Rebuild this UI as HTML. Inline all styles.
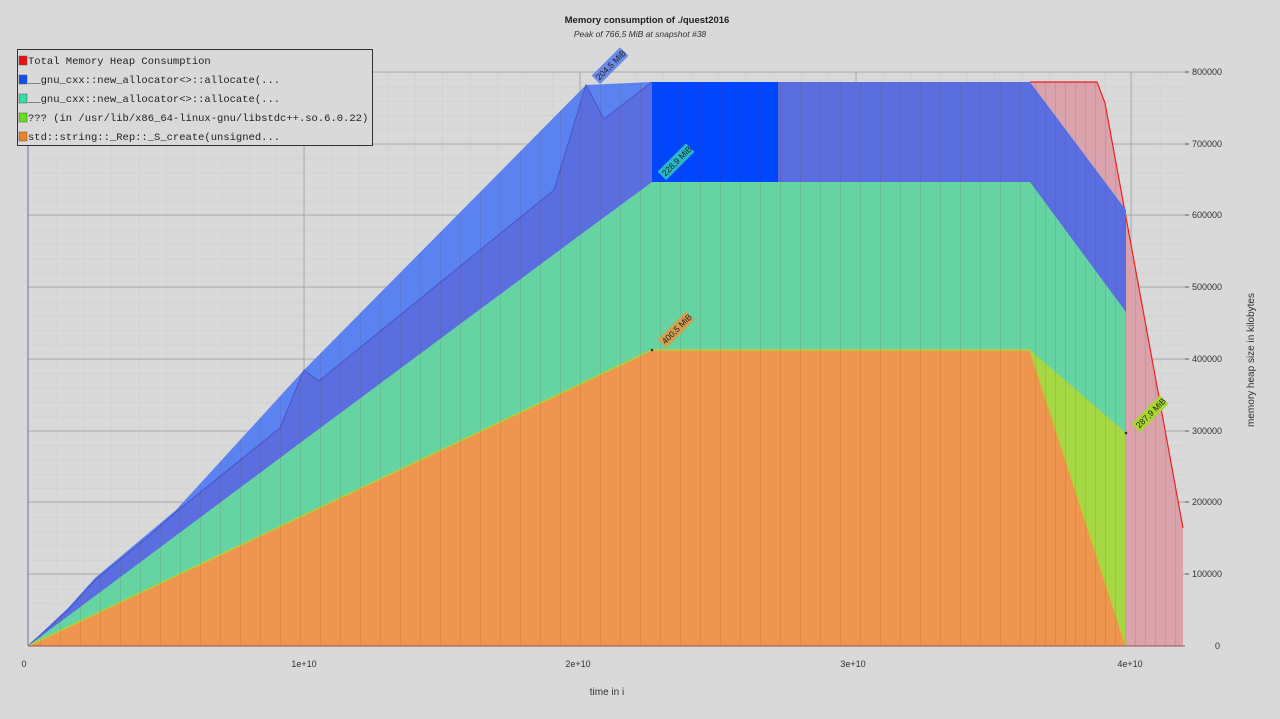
<!DOCTYPE html>
<html><head><meta charset="utf-8"><style>
body{margin:0;background:#d9d9d9;width:1280px;height:714px;overflow:hidden;font-family:"Liberation Sans","DejaVu Sans",sans-serif}
</style></head><body>
<svg width="1280" height="714" viewBox="0 0 1280 714" xmlns="http://www.w3.org/2000/svg">
<defs>
<pattern id="mg" x="28" y="72" width="27.6" height="14.35" patternUnits="userSpaceOnUse">
<line x1="0.5" y1="0" x2="0.5" y2="14.35" stroke="#d2d2d2"/><line x1="0" y1="0.5" x2="27.6" y2="0.5" stroke="#d2d2d2"/>
</pattern>
<pattern id="st1" x="40" y="0" width="20" height="714" patternUnits="userSpaceOnUse">
<line x1="0.5" y1="0" x2="0.5" y2="714" stroke="rgba(110,50,40,0.12)"/>
</pattern>
<pattern id="st2" x="1035" y="0" width="10" height="714" patternUnits="userSpaceOnUse">
<line x1="0.5" y1="0" x2="0.5" y2="714" stroke="rgba(110,50,40,0.14)"/>
</pattern>
</defs>
<rect width="1280" height="714" fill="#d9d9d9"/>
<rect x="28" y="72" width="1157" height="574" fill="url(#mg)"/>
<g stroke="#aaaaaa" stroke-width="1">
<line x1="28" y1="72" x2="1185" y2="72"/><line x1="28" y1="144" x2="1185" y2="144"/><line x1="28" y1="215" x2="1185" y2="215"/><line x1="28" y1="287" x2="1185" y2="287"/><line x1="28" y1="359" x2="1185" y2="359"/><line x1="28" y1="431" x2="1185" y2="431"/><line x1="28" y1="502" x2="1185" y2="502"/><line x1="28" y1="574" x2="1185" y2="574"/>
<line x1="304" y1="72" x2="304" y2="646"/><line x1="580" y1="72" x2="580" y2="646"/><line x1="856" y1="72" x2="856" y2="646"/><line x1="1131" y1="72" x2="1131" y2="646"/>
</g>
<polygon points="1030,82 1097,82 1105,103 1183,528 1183,646 1126,646 1126,210" fill="#daa3ab"/>
<polyline points="1030,82 1097,82 1105,103 1183,528" fill="none" stroke="#ee2020" stroke-width="1.2"/>
<polygon points="28,646 68,608 95,578 176,510 304,370 586,85 652,82 652,646" fill="#5a82f0"/>
<polygon points="28,646 68,610 95,580 150,535 176,512 280,428 304,370 319,381 554,190 586,85 604,119 652,82 1030,82 1126,210 1126,646 28,646" fill="#5b6ee0"/>
<polyline points="28,646 68,610 95,580 150,535 176,512 280,428 304,370 319,381 554,190 586,85 604,119 652,82" fill="none" stroke="#4656c8" stroke-width="1"/>
<rect x="652" y="82" width="126" height="100" fill="#0046ff"/>
<polygon points="28,646 304,440 580,235 652,182 1030,182 1126,312 1126,646" fill="#66d4a2"/>
<polygon points="1030,350 1126,433 1126,646" fill="#a6d846"/>
<polygon points="28,646 652,350 1030,350 1126,646" fill="#ee9650"/>
<polyline points="28,646 652,350 1030,350 1126,646" fill="none" stroke="#b8d030" stroke-width="1.5"/>
<polygon points="28,646 95,580 176,510 304,370 586,85 652,82 778,82 778,182 652,182 652,646" fill="url(#st1)"/>
<polygon points="778,82 1030,82 1030,646 652,646 652,182 778,182" fill="url(#st1)"/>
<polygon points="1030,82 1097,82 1105,103 1183,528 1183,646 1030,646" fill="url(#st2)"/>
<line x1="28" y1="72" x2="28" y2="646" stroke="#7070b8"/>
<line x1="28" y1="646" x2="1185" y2="646" stroke="#a05050"/>
<g font-size="9" fill="#333">
<text x="24" y="667" text-anchor="middle">0</text>
<text x="304" y="667" text-anchor="middle">1e+10</text>
<text x="578" y="667" text-anchor="middle">2e+10</text>
<text x="853" y="667" text-anchor="middle">3e+10</text>
<text x="1130" y="667" text-anchor="middle">4e+10</text>
<text x="1192" y="75">800000</text><text x="1192" y="147">700000</text><text x="1192" y="218">600000</text><text x="1192" y="290">500000</text><text x="1192" y="362">400000</text><text x="1192" y="434">300000</text><text x="1192" y="505">200000</text><text x="1192" y="577">100000</text><text x="1215" y="649">0</text>
<g stroke="#555"><line x1="1185" y1="72" x2="1189" y2="72"/><line x1="1185" y1="144" x2="1189" y2="144"/><line x1="1185" y1="215" x2="1189" y2="215"/><line x1="1185" y1="287" x2="1189" y2="287"/><line x1="1185" y1="359" x2="1189" y2="359"/><line x1="1185" y1="431" x2="1189" y2="431"/><line x1="1185" y1="502" x2="1189" y2="502"/><line x1="1185" y1="574" x2="1189" y2="574"/></g>
</g>
<text x="607" y="695" font-size="10" fill="#333" text-anchor="middle">time in i</text>
<text transform="translate(1254,360) rotate(-90)" font-size="10" fill="#333" text-anchor="middle">memory heap size in kilobytes</text>
<text x="647" y="23" font-size="9.5" font-weight="bold" fill="#222" text-anchor="middle">Memory consumption of ./quest2016</text>
<text x="640" y="37" font-size="8.5" font-style="italic" fill="#333" text-anchor="middle">Peak of 766,5 MiB at snapshot #38</text>
<g font-size="8.5" fill="#222">
<g transform="translate(598,82) rotate(-45)"><rect x="0" y="-9" width="40" height="12" fill="#6a8ae8"/><text x="2" y="0">204,5 MiB</text></g>
<g transform="translate(664,178) rotate(-45)"><rect x="0" y="-9" width="40" height="12" fill="#2ab8c8"/><text x="2" y="0">228,9 MiB</text></g>
<g transform="translate(664,346) rotate(-45)"><rect x="0" y="-9" width="40" height="12" fill="#d0a050"/><text x="2" y="0">400,5 MiB</text></g>
<g transform="translate(1138,430) rotate(-45)"><rect x="0" y="-9" width="40" height="12" fill="#a8d830"/><text x="2" y="0">287,9 MiB</text></g>
</g>
<circle cx="652" cy="350" r="1.3" fill="#333"/><circle cx="1126" cy="433" r="1.3" fill="#333"/>
<rect x="17.5" y="49.5" width="355" height="96" fill="#d9d9d9" stroke="#333"/>
<g font-family="'Liberation Mono','DejaVu Sans Mono',monospace" font-size="10.5" fill="#222">
<rect x="19" y="56" width="8" height="9" fill="#ee1010" stroke="#555" stroke-width="0.5"/><text x="28" y="64">Total Memory Heap Consumption</text>
<rect x="19" y="75" width="8" height="9" fill="#1050ee" stroke="#555" stroke-width="0.5"/><text x="28" y="83">__gnu_cxx::new_allocator&lt;&gt;::allocate(...</text>
<rect x="19" y="94" width="8" height="9" fill="#30e0a0" stroke="#555" stroke-width="0.5"/><text x="28" y="102">__gnu_cxx::new_allocator&lt;&gt;::allocate(...</text>
<rect x="19" y="113" width="8" height="9" fill="#60e020" stroke="#555" stroke-width="0.5"/><text x="28" y="121">??? (in /usr/lib/x86_64-linux-gnu/libstdc++.so.6.0.22)</text>
<rect x="19" y="132" width="8" height="9" fill="#f08020" stroke="#555" stroke-width="0.5"/><text x="28" y="140">std::string::_Rep::_S_create(unsigned...</text>
</g>
</svg>
</body></html>
